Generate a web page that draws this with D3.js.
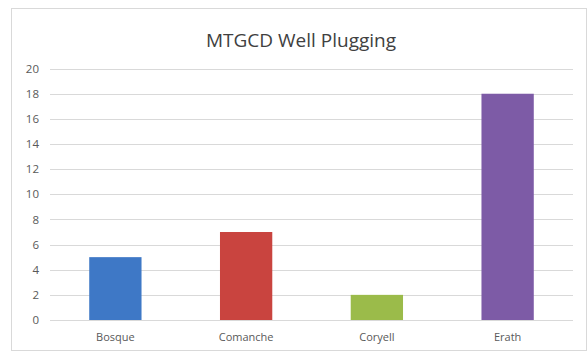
<!DOCTYPE html>
<html>
<head>
<meta charset="utf-8">
<script src="https://cdn.jsdelivr.net/npm/d3@7"></script>
<style>
  body { margin: 0; background: #fff; }
  svg { display: block; font-family: "Open Sans", "Noto Sans", sans-serif; }
</style>
</head>
<body>
<svg id="chart"></svg>
<script>
const categories = ["Bosque", "Comanche", "Coryell", "Erath"];
const wells = [5, 7, 2, 18];
const yTicks = [0, 2, 4, 6, 8, 10, 12, 14, 16, 18, 20];
const barColors = ["#3e78c6", "#c9443f", "#9bbb4a", "#7d5ba6"];

const WIDTH = 588;
const HEIGHT = 352;
const FONT = '"Open Sans", "Noto Sans", sans-serif';

const svg = d3.select("#chart").attr("width", WIDTH).attr("height", HEIGHT);

// chart frame
svg.append("rect")
  .attr("x", 11.5).attr("y", 8.5)
  .attr("width", WIDTH - 13).attr("height", HEIGHT - 10)
  .attr("fill", "#fff")
  .attr("stroke", "#d9d9d9");

const scaleX = d3.scaleBand()
  .domain(categories)
  .range([50, 573])
  .paddingInner(0.6)
  .paddingOuter(0.3);

const scaleY = d3.scaleLinear()
  .domain([0, 20])
  .range([320, 68.6]);

// gridlines
svg.append("g")
  .selectAll("line")
  .data(yTicks)
  .join("line")
  .attr("x1", 50).attr("x2", 573)
  .attr("y1", d => Math.round(scaleY(d)) + 0.5)
  .attr("y2", d => Math.round(scaleY(d)) + 0.5)
  .attr("stroke", "#d9d9d9")
  .attr("stroke-width", 1);

// y axis labels
const axisY = d3.axisLeft(scaleY).tickValues(yTicks).tickSize(0).tickPadding(0);
svg.append("g")
  .attr("transform", "translate(39,0)")
  .call(axisY)
  .attr("font-family", FONT)
  .call(g => g.select(".domain").remove())
  .call(g => g.selectAll("text")
    .attr("fill", "#595959")
    .style("font-size", "11.5px"));

// bars
svg.append("g")
  .selectAll("rect")
  .data(wells)
  .join("rect")
  .attr("x", (d, i) => scaleX(categories[i]))
  .attr("y", d => scaleY(d))
  .attr("width", scaleX.bandwidth())
  .attr("height", d => scaleY(0) - scaleY(d))
  .attr("fill", (d, i) => barColors[i]);

// x axis labels
const axisX = d3.axisBottom(scaleX).tickSize(0).tickPadding(0);
svg.append("g")
  .attr("transform", "translate(0,333)")
  .call(axisX)
  .attr("font-family", FONT)
  .call(g => g.select(".domain").remove())
  .call(g => g.selectAll("text")
    .attr("fill", "#595959")
    .style("font-size", "11px"));

// title
svg.append("text")
  .attr("x", 301)
  .attr("y", 47)
  .attr("text-anchor", "middle")
  .attr("fill", "#404040")
  .style("font-size", "19px")
  .text("MTGCD Well Plugging");
</script>
</body>
</html>
